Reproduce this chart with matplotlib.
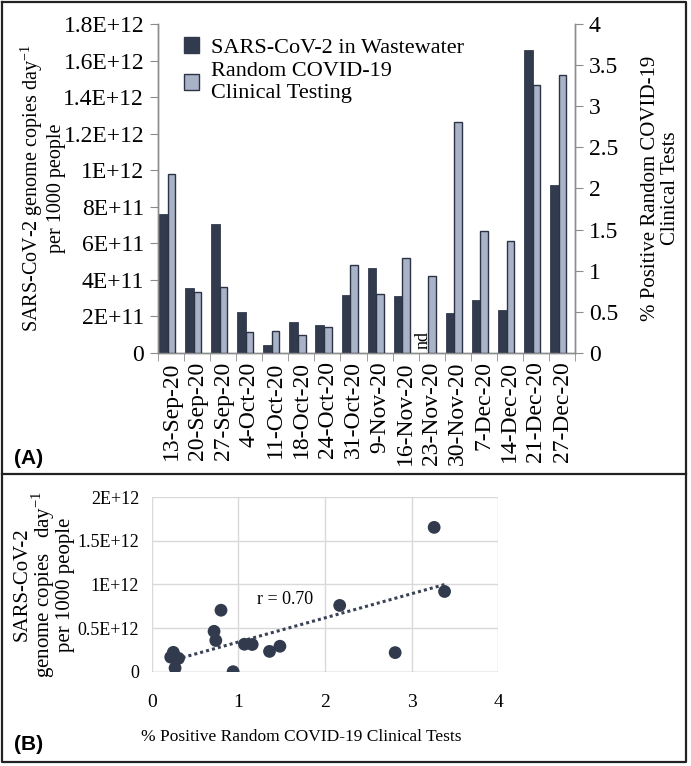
import numpy as np
import matplotlib
matplotlib.use("Agg")
import matplotlib.pyplot as plt
from matplotlib.patches import Patch
from matplotlib.lines import Line2D

plt.rcParams['font.family'] = ['Liberation Serif', 'DejaVu Serif']
plt.rcParams['mathtext.fontset'] = 'custom'
plt.rcParams['mathtext.rm'] = 'Liberation Serif'

# sampling weeks
dates = ["13-Sep-20", "20-Sep-20", "27-Sep-20", "4-Oct-20", "11-Oct-20",
         "18-Oct-20", "24-Oct-20", "31-Oct-20", "9-Nov-20", "16-Nov-20",
         "23-Nov-20", "30-Nov-20", "7-Dec-20", "14-Dec-20", "21-Dec-20",
         "27-Dec-20"]
# genome copies / day / 1000 people (23-Nov = nd)
wastewater = [7.6e11, 3.58e11, 7.05e11, 2.22e11, 0.42e11, 1.67e11, 1.53e11,
              3.15e11, 4.63e11, 3.12e11, 0.0, 2.19e11, 2.92e11, 2.33e11,
              1.655e12, 9.2e11]
# % positive random clinical tests
clinical = [2.17, 0.74, 0.80, 0.25, 0.27, 0.22, 0.31, 1.07, 0.72, 1.16,
            0.94, 2.81, 1.48, 1.36, 3.26, 3.38]

left_ticks = [0, 2e11, 4e11, 6e11, 8e11, 1e12, 1.2e12, 1.4e12, 1.6e12, 1.8e12]
left_labels = ["0", "2E+11", "4E+11", "6E+11", "8E+11", "1E+12", "1.2E+12",
               "1.4E+12", "1.6E+12", "1.8E+12"]
right_ticks = [0, 0.5, 1, 1.5, 2, 2.5, 3, 3.5, 4]
right_labels = ["0", "0.5", "1", "1.5", "2", "2.5", "3", "3.5", "4"]
sc_yticks = [0, 0.5e12, 1e12, 1.5e12, 2e12]
sc_ylabels = ["0", "0.5E+12", "1E+12", "1.5E+12", "2E+12"]

dark = '#323b4e'
light = '#a8b3c7'
axis_gray = '#8c8c8c'

fig = plt.figure(figsize=(6.91, 7.66), dpi=100)

# ---------- panel A: bars ----------
ax = fig.add_axes([0.2287, 0.5392, 0.6035, 0.4295])
ax2 = ax.twinx()
x = np.arange(len(dates))
ax.bar(x - 0.46, wastewater, width=0.33, align='edge', color=dark,
       edgecolor=dark, linewidth=0.6, zorder=3)
ax2.bar(x - 0.13, clinical, width=0.29, align='edge', color=light,
        edgecolor='#2b3345', linewidth=1.0, zorder=3)

ax.set_xlim(-0.5, len(dates) - 0.5)
ax.set_ylim(0, 1.8e12)
ax2.set_ylim(0, 4)
ax.set_yticks(left_ticks)
ax.set_yticklabels(left_labels, fontsize=17)
ax2.set_yticks(right_ticks)
ax2.set_yticklabels(right_labels, fontsize=17)

ax.set_xticks(x)
ax.set_xticklabels(dates, rotation=90, fontsize=17)
ax.set_xticks(np.arange(-0.5, len(dates)), minor=True)
ax.tick_params(axis='x', which='major', length=0, pad=6)
ax.tick_params(axis='x', which='minor', length=6, color=axis_gray, direction='out')
ax.tick_params(axis='y', length=6, color=axis_gray, pad=4)
ax2.tick_params(axis='y', length=6, color=axis_gray, pad=4)

for a in (ax, ax2):
    a.spines['top'].set_visible(False)
    for s in ('left', 'right', 'bottom'):
        a.spines[s].set_color(axis_gray)
        a.spines[s].set_linewidth(1.0)

ax.text(10 - 0.33, 0.02e12, "nd", rotation=90, fontsize=13,
        ha='center', va='bottom')

ax.set_ylabel("SARS-CoV-2 genome copies day$^{-1}$\nper 1000 people",
              fontsize=14.5, linespacing=1.15, labelpad=-2)
ax2.set_ylabel("% Positive Random COVID-19\nClinical Tests", fontsize=15,
               linespacing=1.1, labelpad=16)

handles = [Patch(facecolor=dark, edgecolor=dark),
           Patch(facecolor=light, edgecolor='#2b3345', linewidth=1.0)]
ax.legend(handles, ["SARS-CoV-2 in Wastewater",
                    "Random COVID-19\nClinical Testing"],
          loc='upper left', bbox_to_anchor=(0.03, 1.0), frameon=False,
          fontsize=16, handlelength=0.7, handleheight=0.7,
          handletextpad=0.5, labelspacing=0.2, borderaxespad=0.2)

# ---------- panel B: scatter ----------
bx = fig.add_axes([0.2195, 0.1231, 0.5016, 0.2277])
bx.scatter(clinical, wastewater, s=85, color=dark, zorder=4,
           edgecolors='none')
k, b = np.polyfit(clinical, wastewater, 1)
xf = np.array([min(clinical), max(clinical)])
bx.plot(xf, k * xf + b, linestyle=(0, (1, 1)), color='#3a4356',
        linewidth=2.2, zorder=3)
bx.text(1.54, 0.83e12, "r = 0.70", fontsize=13, ha='center', va='center')

bx.set_xlim(0, 4)
bx.set_ylim(0, 2e12)
bx.set_xticks([0, 1, 2, 3, 4])
bx.set_xticklabels(["0", "1", "2", "3", "4"], fontsize=14)
bx.set_yticks(sc_yticks)
bx.set_yticklabels(sc_ylabels, fontsize=13)
bx.tick_params(axis='x', length=0, pad=16)
bx.tick_params(axis='y', length=0, pad=9)
bx.grid(True, color='#d9d9d9', linewidth=1.0, zorder=0)
bx.set_axisbelow(True)
for s in bx.spines.values():
    s.set_visible(False)
bx.axhline(0, color='#bfbfbf', linewidth=1.0, zorder=1)
bx.set_xlabel("% Positive Random COVID-19 Clinical Tests", fontsize=12.5)
bx.xaxis.set_label_coords(0.431, -0.33)
bx.set_ylabel("SARS-CoV-2\ngenome copies   day$^{-1}$\nper 1000 people",
              fontsize=15, linespacing=0.9, labelpad=2)

# ---------- panel frames and letters ----------
W, H = 691.0, 766.0
def fx(px):
    return px / W
def fy(py):
    return 1 - py / H
frame_kw = dict(color='#222222', linewidth=1.6, transform=fig.transFigure)
fig.add_artist(Line2D([fx(2), fx(686), fx(686), fx(2), fx(2)],
                      [fy(2), fy(2), fy(762), fy(762), fy(2)], **frame_kw))
fig.add_artist(Line2D([fx(2), fx(686)], [fy(474), fy(474)], **frame_kw))

fig.text(fx(14), fy(458), "(A)", fontsize=15, fontweight='bold',
         family='Liberation Sans', va='center', ha='left')
fig.text(fx(14), fy(744), "(B)", fontsize=15, fontweight='bold',
         family='Liberation Sans', va='center', ha='left')

fig.savefig("out.png", dpi=100)
